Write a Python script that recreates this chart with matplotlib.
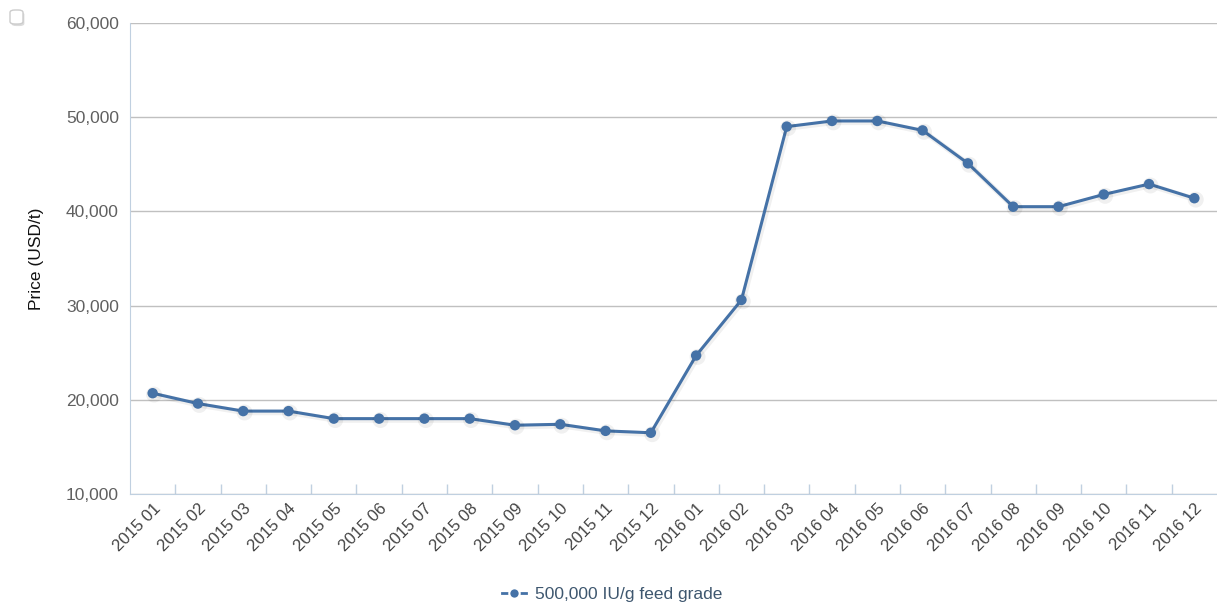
import matplotlib
matplotlib.use("Agg")
import matplotlib.pyplot as plt
import matplotlib.patheffects as pe
from matplotlib.lines import Line2D
from matplotlib.patches import FancyBboxPatch
from matplotlib.ticker import FuncFormatter, FixedLocator

plt.rcParams["font.family"] = ["Liberation Sans", "DejaVu Sans"]

# monthly price, 500,000 IU/g feed grade
months = ["2015 01", "2015 02", "2015 03", "2015 04", "2015 05", "2015 06",
          "2015 07", "2015 08", "2015 09", "2015 10", "2015 11", "2015 12",
          "2016 01", "2016 02", "2016 03", "2016 04", "2016 05", "2016 06",
          "2016 07", "2016 08", "2016 09", "2016 10", "2016 11", "2016 12"]
price = [20700, 19600, 18800, 18800, 18000, 18000,
         18000, 18000, 17300, 17400, 16700, 16500,
         24700, 30600, 49000, 49600, 49600, 48600,
         45100, 40500, 40500, 41800, 42900, 41400]
series_name = "500,000 IU/g feed grade"

line_col = "#4572A7"
axis_col = "#C0D0E0"
grid_col = "#C0C0C0"
label_col = "#606060"

fig = plt.figure(figsize=(12.17, 6.08), dpi=100)
ax = fig.add_axes([130 / 1217, 114 / 608, 1087 / 1217, 471 / 608])

x = list(range(len(months)))
ax.plot(x, price, color=line_col, lw=2.2, marker="o", ms=7.5,
        markeredgewidth=0, zorder=3,
        path_effects=[pe.SimpleLineShadow(offset=(1, -1), shadow_color="black", alpha=0.06, linewidth=4),
                      pe.Normal()])

ax.set_xlim(-0.5, len(months) - 0.5)
ax.set_ylim(10000, 60000)
ax.set_yticks(range(10000, 60001, 10000))
ax.yaxis.set_major_formatter(FuncFormatter(lambda v, p: f"{int(v):,}"))
ax.grid(axis="y", color=grid_col, lw=1)
ax.set_axisbelow(True)

# category labels at the centres, tick marks on the boundaries
ax.set_xticks(x)
ax.set_xticklabels(months, rotation=45, ha="right", rotation_mode="anchor",
                   fontsize=12, color="#444444")
ax.xaxis.set_minor_locator(FixedLocator([i + 0.5 for i in range(len(months) - 1)]))
ax.tick_params(axis="x", which="major", length=0, pad=5)
ax.tick_params(axis="x", which="minor", length=7, direction="in", color=axis_col, width=1)
ax.tick_params(axis="y", length=0, pad=8, labelsize=12.5, labelcolor=label_col)

for s in ["top", "right"]:
    ax.spines[s].set_visible(False)
ax.spines["left"].set_color(axis_col)
ax.spines["bottom"].set_color(axis_col)

ax.set_ylabel("Price (USD/t)", fontsize=12.5, color="#111111")
ax.yaxis.set_label_coords(-86 / 1087, 0.5)

handle = Line2D([], [], color=line_col, lw=2, marker="o", ms=7.5,
                markeredgecolor="white", markeredgewidth=1.5)
leg = fig.legend([handle], [series_name], loc="center",
                 bbox_to_anchor=(612 / 1217, 1 - 594 / 608),
                 frameon=False, fontsize=12.5, handlelength=1.4, handletextpad=0.5)
for t in leg.get_texts():
    t.set_color("#3E576F")

# small export checkbox in the corner
box = FancyBboxPatch((10 / 1217, 1 - 24 / 608), 13 / 1217, 14 / 608,
                     boxstyle="round,pad=0,rounding_size=0.004",
                     transform=fig.transFigure, facecolor="white",
                     edgecolor="#CCCCCC", lw=1,
                     path_effects=[pe.SimplePatchShadow(offset=(1, -1.5), alpha=0.2), pe.Normal()])
fig.patches.append(box)

fig.savefig("out.png", dpi=100)
